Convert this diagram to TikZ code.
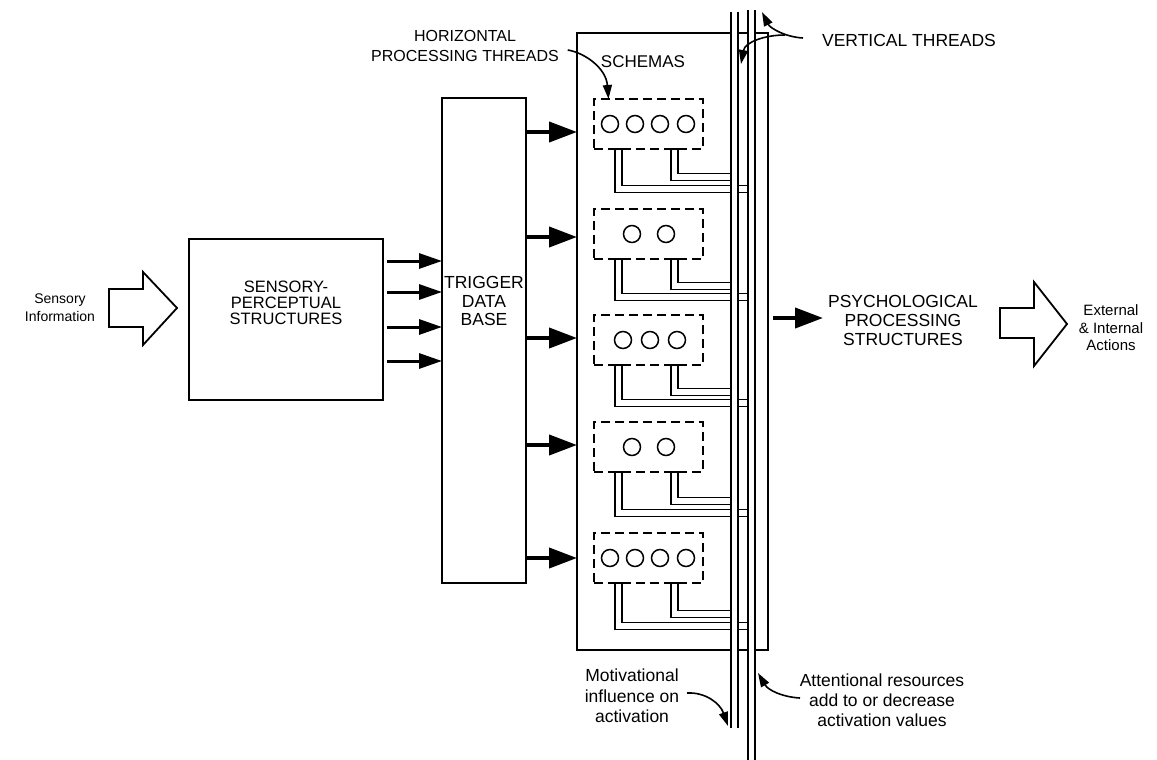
\documentclass[tikz,border=0pt]{standalone}
\usepackage{fontspec}
\setmainfont{Liberation Sans}
\usetikzlibrary{arrows.meta,calc}
\newcommand\fsz[2]{\fontsize{#1}{#2}\selectfont}
\begin{document}
\begin{tikzpicture}[x=1pt,y=-1pt,
  every node/.style={inner sep=0pt,outer sep=0pt},
  lbl/.style={align=center},
  box/.style={draw,line width=1.8pt},
  schemabox/.style={draw,line width=1.8pt,dash pattern=on 9pt off 5pt},
  blob/.style={circle,draw,line width=1.5pt,minimum size=17pt},
  conn/.style={double,line width=1.6pt,double distance=5.4pt},
  thread/.style={double,line width=1.6pt,double distance=5.4pt},
  bigarrow/.style={line width=4pt,-{Triangle[length=28pt,width=20pt]}},
  smallarrow/.style={line width=3pt,-{Triangle[length=23pt,width=15pt]}},
  pointer/.style={line width=1.6pt,-{Triangle[length=14pt,width=9pt]}},
  blockarrow/.style={draw,line width=1.8pt,line join=miter}
]
\useasboundingbox[fill=white] (0,0) rectangle (1157,760);

% left input
\node[lbl,font=\fsz{14}{18}] (si) at (60,308) {Sensory\\Information};
\draw[blockarrow] (109,289) -- (143,289) -- (143,272) -- (177,308) -- (143,345) -- (143,327) -- (109,327) -- cycle;

% sensory-perceptual structures
\node[box,minimum width=194pt,minimum height=161pt,anchor=north west] (sp) at (189,239) {};
\node[lbl,font=\fsz{16.5}{16}] (spt) at (286,303) {SENSORY-\\PERCEPTUAL\\STRUCTURES};

% trigger data base
\node[box,minimum width=84pt,minimum height=485pt,anchor=north west] (trig) at (442,98) {};
\node[lbl,font=\fsz{17.5}{18.5}] (trigt) at (484,301) {TRIGGER\\DATA\\BASE};

\foreach \y in {261,292,327,361}{
  \coordinate (h) at (0,\y);
  \draw[smallarrow] (sp.east |- h) ++(4,0) -- (trig.west |- h);
}

% big box
\node[box,minimum width=191pt,minimum height=617pt,anchor=north west] (bigbox) at (577,33) {};

\foreach \y in {132,237,338,445,558}{
  \coordinate (h) at (0,\y);
  \draw[bigarrow] (trig.east |- h) -- (bigbox.west |- h);
}

% labels at top
\node[lbl,font=\fsz{16}{20}] (hpt) at (465,46) {HORIZONTAL\\PROCESSING THREADS};
\node[lbl,font=\fsz{17}{17}] (schemas) at (643,62) {SCHEMAS};
\node[lbl,font=\fsz{17.5}{17.5}] (vt) at (909,40) {VERTICAL THREADS};

% schemas
\foreach \i/\t/\r/\l/\cl in {1/99/177/189/{610,635,660,686},
                              2/209/286/297/{632,666},
                              3/315/392/403/{623,650,677},
                              4/422/501/513/{632,666},
                              5/533/614/626/{610,635,660,686}}{
  \node[schemabox,minimum width=109pt,minimum height=50pt,anchor=north west] (s\i) at (594,\t) {};
  \foreach \cx in \cl { \node[blob] (s\i c\cx) at (\cx,\t+25) {}; }
  \draw[conn] (s\i.south west) ++(24.5,0) |- (748,\l);
  \draw[conn] (s\i.south west) ++(80.5,0) |- (731,\r);
  \draw[line width=1.8pt] (s\i.south west) ++(18,0) -- ++(12,0);
  \draw[line width=1.8pt] (s\i.south west) ++(74,0) -- ++(12,0);
}

% vertical threads
\coordinate (tAtop) at (734.5,12);
\coordinate (tAbot) at (734.5,728);
\coordinate (tBtop) at (751.5,10);
\coordinate (tBbot) at (751.5,760);
\draw[thread] (tAtop) -- (tAbot);
\draw[thread] (tBtop) -- (tBbot);

% pointers
\draw[pointer] ([shift={(9,4)}]hpt.east) .. controls (585,53) and (606,68) .. ([xshift=-40pt]s1.north);
\coordinate (vtA) at (803,38);
\coordinate (vtB) at (785,35);
\draw[pointer] (vtA) .. controls (785,37) and (770,28) .. (762,12);
\draw[pointer] (vtB) .. controls (765,35) and (745,42) .. (741,64);

% bottom labels
\node[lbl,font=\fsz{17.5}{20.5}] (mot) at (632,696) {Motivational\\influence on\\activation};
\node[lbl,font=\fsz{17.5}{20}] (att) at (882,700) {Attentional resources\\add to or decrease\\activation values};
\draw[pointer] (687,693) .. controls (705,692) and (720,703) .. (728,726);
\draw[pointer] (800,698) .. controls (782,697) and (768,690) .. (758,673);

% right output
\node[lbl,font=\fsz{17.5}{19}] (psy) at (903,320) {PSYCHOLOGICAL\\PROCESSING\\STRUCTURES};
\coordinate (pin) at (823,318);
\draw[bigarrow] (bigbox.east |- pin) ++(5,0) -- (pin);
\draw[blockarrow] (1000,308) -- (1034,308) -- (1034,282) -- (1067,324) -- (1034,366) -- (1034,338) -- (1000,338) -- cycle;
\node[lbl,font=\fsz{15}{17.5}] (ext) at (1111,328) {External\\\& Internal\\Actions};
\end{tikzpicture}
\end{document}
